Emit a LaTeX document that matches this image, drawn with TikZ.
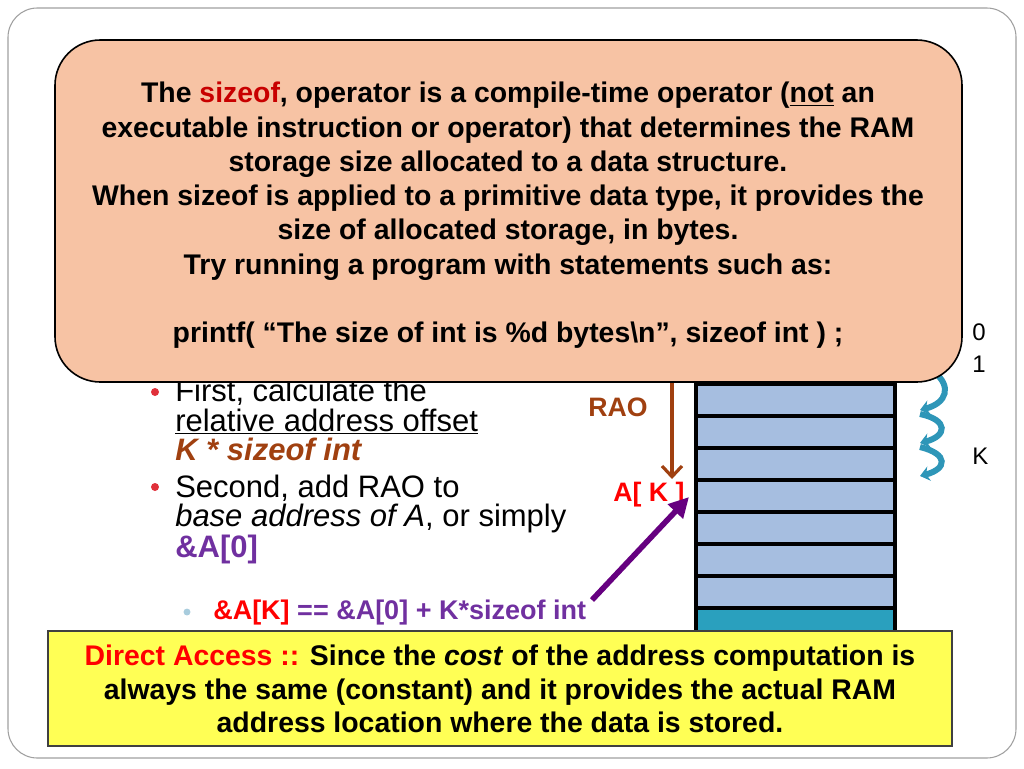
\documentclass[tikz,border=0pt]{standalone}
\usepackage{fontspec}
\setmainfont{Liberation Sans}
\usetikzlibrary{arrows.meta}
\definecolor{BoxClr}{RGB}{247,195,164}
\definecolor{NoteClr}{RGB}{255,255,85}
\definecolor{CellClr}{RGB}{166,190,224}
\definecolor{LastClr}{RGB}{42,160,190}
\definecolor{RaoClr}{RGB}{160,64,16}
\definecolor{PurpClr}{RGB}{112,48,160}
\definecolor{ArrClr}{RGB}{102,0,128}
\definecolor{HookClr}{RGB}{46,150,184}
\definecolor{SizeClr}{RGB}{200,0,0}
\definecolor{DotClr}{RGB}{224,48,58}
\definecolor{SubClr}{RGB}{168,204,221}
\definecolor{FrameClr}{RGB}{160,160,160}

\begin{document}
\begin{tikzpicture}[x=0.75pt,y=-0.75pt,
  boxtext/.style={inner sep=0pt,align=center,anchor=north,font=\fontsize{21.3}{25.7}\selectfont\bfseries},
  bullet/.style={anchor=base west,inner sep=0pt,font=\fontsize{23.25}{22.5}\selectfont},
  label/.style={inner sep=0pt,font=\fontsize{20}{20}\selectfont\bfseries},
  index/.style={anchor=west,inner sep=0pt,font=\fontsize{18}{18}\selectfont},
  cell/.style={draw=black,line width=2.8pt,fill=CellClr},
  hook/.style={HookClr,line width=4.5pt,-{Stealth[length=7pt,width=11pt]}}]
\useasboundingbox (0,0) rectangle (1024,768);

\draw[FrameClr,line width=0.8pt,rounded corners=22pt] (8,8) rectangle (1016,758);

\foreach \k in {0,...,8}
  \draw[cell] (696,320+32*\k) rectangle (895,352+32*\k);
\draw[cell,fill=LastClr] (696,608) rectangle (895,640);

\draw[hook] (934,372) .. controls (952,386) and (947,403) .. (920,410);
\draw[hook] (920,414) .. controls (949,420) and (947,436) .. (920,443);
\draw[hook] (920,447) .. controls (949,454) and (947,469) .. (920,476);

\node[index] (i0) at (972,332) {0};
\node[index] (i1) at (972,364) {1};
\node[index] (iK) at (972,456) {K};

\fill[DotClr] (155,392) circle (3pt);
\fill[DotClr] (155,487) circle (3pt);
\fill[SubClr] (187,612) circle (2.6pt);

\node[bullet] (b1) at (175,401) {First, calculate the};
\node[bullet] (b2) at (175,431) {\underline{relative address offset}};
\node[bullet] (b3) at (175,460) {\textcolor{RaoClr}{\bfseries\itshape K * sizeof int}};
\node[bullet] (b4) at (175,497) {Second, add RAO to};
\node[bullet] (b5) at (175,526) {\textit{base address of A}, or simply};
\node[bullet] (b6) at (175,557) {\textcolor{PurpClr}{\bfseries \&A[0]}};
\node[bullet,font=\fontsize{20.25}{20}\selectfont\bfseries] (b7) at (213,619)
  {\textcolor{red}{\&A[K]} \textcolor{PurpClr}{== \&A[0] + K*sizeof int}};

\node[label,text=RaoClr] (rao) at (618,407) {RAO};
\node[label,text=red] (AK) at (649,495) {A[ K ]};

\coordinate (top) at (672,370);
\coordinate (tip) at (672,479);
\draw[RaoClr,line width=2.4pt,-{Straight Barb[length=8pt,width=15pt,line width=2.4pt]}] (top) -- (tip);

\coordinate (from) at (592,600);
\coordinate (to) at (689,497);
\draw[ArrClr,line width=4.2pt,-{Triangle[length=15pt,width=15pt]}] (from) -- (to);

\draw[line width=1.2pt,fill=BoxClr,rounded corners=34pt] (55,40) rectangle (962,382);
\node[boxtext] (sz) at (508,82) {The \textcolor{SizeClr}{sizeof}, operator is a compile-time operator (\underline{not} an\\
executable instruction or operator) that determines the RAM\\
storage size allocated to a data structure.\\
When sizeof is applied to a primitive data type, it provides the\\
size of allocated storage, in bytes.\\
Try running a program with statements such as:\\[25.7pt]
printf( “The size of int is \%d bytes\textbackslash n”, sizeof int ) ;};

\draw[black!75,line width=0.8pt,fill=NoteClr] (48,631) rectangle (952,746);
\node[boxtext,font=\fontsize{21.3}{25.1}\selectfont\bfseries] (da) at (500,645)
  {\textcolor{red}{Direct Access ::} Since the \textit{cost} of the address computation is\\
always the same (constant) and it provides the actual RAM\\
address location where the data is stored.};

\end{tikzpicture}
\end{document}
